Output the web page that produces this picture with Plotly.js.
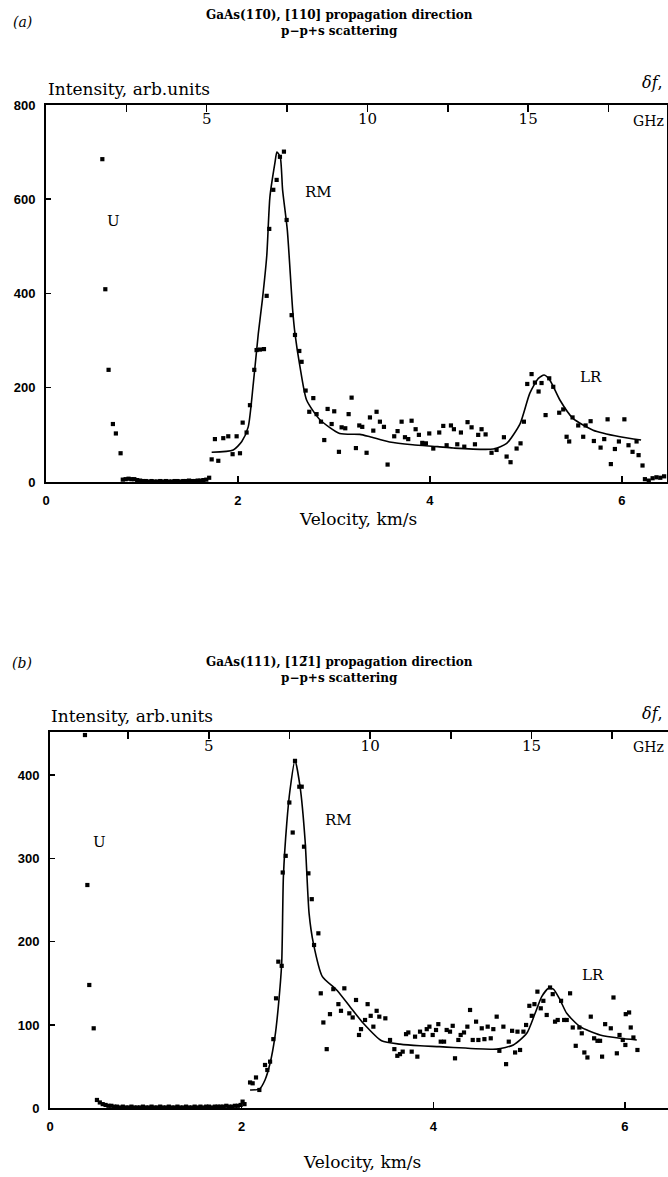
<!DOCTYPE html>
<html><head><meta charset="utf-8">
<script src="https://cdn.plot.ly/plotly-3.0.1.min.js"></script>
<style>html,body{margin:0;padding:0;background:#fff}</style>
</head><body><div id="chart" style="width:668px;height:1177px"></div>
<script>
// ---------- Panel (a) data: GaAs(1-10), [110] ----------
const aDotsV = [0.587,0.618,0.652,0.697,0.728,0.777,
0.80,0.83,0.86,0.89,0.92,0.95,0.98,1.01,1.04,1.07,1.10,1.13,1.16,1.19,1.22,1.25,1.28,1.31,1.34,1.37,1.40,1.43,1.46,1.49,1.52,1.55,1.58,1.61,1.64,1.67,1.70,
1.726,1.795,1.760,1.847,1.899,1.986,1.944,2.021,2.049,2.090,2.125,2.170,2.194,2.229,2.271,
2.299,2.326,2.368,2.403,2.4375,2.479,2.507,2.559,2.594,2.639,2.663,2.705,2.785,2.743,2.819,2.865,2.899,2.934,3.003,2.976,3.052,3.080,3.118,3.153,3.184,3.229,3.264,3.295,3.340,3.375,3.410,3.444,3.479,3.521,3.559,3.628,3.663,3.705,3.740,3.774,3.809,3.851,3.885,3.920,3.958,3.993,4.097,
4.035,4.139,4.174,4.219,4.250,4.285,4.323,4.358,4.392,4.434,4.469,4.503,4.538,4.580,4.642,4.694,4.771,4.799,4.840,4.903,4.944,4.979,5.014,5.059,5.094,5.132,5.163,5.205,5.243,5.285,5.347,5.389,5.424,5.451,5.486,5.545,5.597,5.622,5.674,5.708,5.778,5.816,5.851,5.885,5.927,5.969,6.026,6.069,6.111,6.153,6.174,6.215,
6.24,6.28,6.32,6.36,6.40,6.44];
const aDotsI = [685,409,238,123,103,61,
5,6,7,6,6,4,3,2,2,1,2,1,1,2,1,2,1,1,2,2,1,2,2,3,2,2,3,3,4,5,9,
48,45,91,93,97,97,59,61,126,105,163,238,280,281,282,
395,537,620,641,690,701,556,354,312,278,255,194,178,149,144,128,89,155,150,123,64,116,114,144,179,72,120,117,62,137,109,149,128,117,37,97,108,128,95,91,130,112,100,83,82,103,105,
71,119,78,120,112,80,105,75,127,116,80,100,112,101,62,68,95,54,42,71,82,128,208,229,211,192,210,142,220,202,147,154,96,86,137,120,96,120,129,87,73,91,133,38,70,86,133,78,64,86,57,35,
6,3,8,10,9,12];
const aFitV = [1.726,1.951,2.04,2.107,2.16,2.212,2.254,2.30,2.333,2.385,2.406,2.44,2.465,2.514,2.57,2.594,2.646,2.715,2.854,3.06,3.27,3.375,3.58,3.82,4.08,4.243,4.66,4.80,4.94,5.04,5.13,5.19,5.25,5.354,5.49,5.70,5.98,6.20];
const aFitI = [63,68,86,117,209,315,386,480,605,677,700,690,620,535,365,315,245,174,132,103,101,96,85,79,75,72,70,82,124,188,220,227,216,174,135,110,96,89];

// ---------- Panel (b) data: GaAs(111), [1-21] ----------
const bDotsV = [0.365,0.39,0.41,0.456,0.49,
0.52,0.55,0.58,0.61,0.64,0.67,0.70,0.73,0.76,0.79,0.82,0.85,0.88,0.91,0.94,0.97,1.00,1.03,1.06,1.09,1.12,1.15,1.18,1.21,1.24,1.27,1.30,1.33,1.36,1.39,1.42,1.45,1.48,1.51,1.54,1.57,1.60,1.63,1.66,1.69,1.72,1.75,1.78,1.81,1.84,1.87,1.90,1.93,1.96,1.99,2.01,2.03,
2.088,2.115,2.15,2.185,2.244,2.268,2.297,2.331,2.359,2.383,2.418,
2.429,2.46,2.498,2.533,2.557,2.602,2.627,2.651,2.697,2.732,2.801,2.756,2.826,2.853,2.888,2.922,2.957,3.01,3.037,3.072,3.124,3.159,3.194,3.225,3.246,3.288,3.315,3.347,3.375,3.409,3.437,3.5,3.549,3.594,3.625,3.653,3.681,3.716,3.74,3.775,3.834,3.810,3.862,3.897,3.932,3.960,3.994,4.029,4.053,
4.078,4.113,4.14,4.175,4.203,4.227,4.262,4.286,4.321,4.356,4.384,4.412,4.447,4.471,4.506,4.534,4.568,4.60,4.627,4.662,4.690,4.732,4.760,4.788,4.823,4.854,4.879,4.906,4.941,4.969,5.003,5.028,5.056,5.087,5.122,5.149,5.184,5.219,5.247,5.271,5.299,5.334,5.366,5.393,5.428,5.456,5.487,5.525,5.55,5.577,5.609,5.644,5.679,5.714,5.741,5.762,5.794,5.853,5.881,5.916,5.944,5.978,6.005,6.009,6.044,6.061,6.089,6.131];
const bDotsI = [448,268,148,96,10,
7,5,4,3,3,2,2,1,2,1,1,2,1,1,1,2,1,1,2,1,1,2,1,1,2,1,1,2,1,1,2,1,1,2,1,2,1,2,2,1,2,2,2,2,3,2,2,3,3,4,8,5,
31,30,37,22,52,46,56,83,132,176,171,
283,303,367,331,417,386,386,314,282,251,210,196,138,103,71,113,143,125,117,144,114,109,130,88,95,106,125,111,98,117,110,108,82,71,63,65,68,89,91,68,62,86,92,88,95,98,88,94,101,
80,80,94,92,99,60,82,88,91,98,118,82,104,82,96,83,98,84,95,110,69,98,53,80,93,67,92,70,92,100,123,111,125,140,120,129,112,145,137,104,106,129,106,106,138,97,75,97,90,67,61,110,84,81,81,62,101,96,133,66,88,82,76,113,115,97,85,70];
const bFitV = [2.088,2.185,2.244,2.297,2.348,2.383,2.418,2.436,2.471,2.505,2.557,2.61,2.662,2.704,2.749,2.843,2.992,3.131,3.27,3.461,3.653,3.862,4.063,4.21,4.662,4.836,4.976,5.063,5.132,5.202,5.254,5.324,5.393,5.532,5.741,5.95,6.124];
const bFitI = [22,23,34,54,86,122,174,278,342,382,418,386,322,234,198,158,142,122,102,81,77,75,74,73,71,76,90,114,134,144,143,130,114,98,88,84,82];

// ---------- tick labels ----------
const velTicks = [0,2,4,6];
const aIntTicks = [0,200,400,600,800];
const bIntTicks = [0,100,200,300,400];
const ghzTicks = [2.5,5,7.5,10,12.5,15,17.5];
const ghzText = ['','5','','10','','15',''];

const W = 668, H = 1177;
const PX = x => x / W, PY = y => 1 - y / H;
const serif = 'DejaVu Serif, serif';
const sansB = {family:'Liberation Sans, Arial, sans-serif', size:13, color:'#000', weight:'bold'};

function dots(x,y,xa,ya){return {x:x,y:y,xaxis:xa,yaxis:ya,type:'scatter',mode:'markers',
  marker:{symbol:'square',size:4.2,color:'#000'},cliponaxis:false,hoverinfo:'skip',showlegend:false};}
function fit(x,y,xa,ya){return {x:x,y:y,xaxis:xa,yaxis:ya,type:'scatter',mode:'lines',
  line:{color:'#000',width:1.6,shape:'spline',smoothing:0.6},hoverinfo:'skip',showlegend:false};}
const empty = (xa,ya)=>({x:[],y:[],xaxis:xa,yaxis:ya,type:'scatter',mode:'markers',showlegend:false,hoverinfo:'skip'});

const data = [dots(aDotsV,aDotsI,'x','y'), fit(aFitV,aFitI,'x','y'),
              dots(bDotsV,bDotsI,'x2','y2'), fit(bFitV,bFitI,'x2','y2'),
              empty('x3','y'), empty('x4','y2')];

const botAx = (dom, rng, anchor) => ({domain:dom, range:rng, anchor:anchor, tickvals:velTicks,
  ticks:'inside', ticklen:6, tickwidth:1.5, tickcolor:'#000', showline:true, linewidth:2, linecolor:'#000',
  showgrid:false, zeroline:false, tickfont:{...sansB, size:13}, ticklabelstandoff:5});
const leftAx = (dom, rng, anchor, tv, mirror) => ({domain:dom, range:rng, anchor:anchor, tickvals:tv,
  ticks:'inside', ticklen:5, tickwidth:1.5, tickcolor:'#000', showline:true, linewidth:2, linecolor:'#000',
  mirror:mirror, showgrid:false, zeroline:false, tickfont:sansB, ticklabelstandoff:6});
const topAx = (over, anchor, rng) => ({overlaying:over, anchor:anchor, side:'top', range:rng,
  tickvals:ghzTicks, ticktext:ghzText, ticks:'inside', ticklen:7, tickwidth:1.5, tickcolor:'#000',
  ticklabelposition:'outside', ticklabelstandoff:-27, ticklabeloverflow:'allow',
  showline:true, linewidth:2, linecolor:'#000', showgrid:false, zeroline:false,
  tickfont:{family:serif, size:15, color:'#000'}});

const ann = (txt, x, y, font, xanchor) => ({text:txt, xref:'paper', yref:'paper', x:PX(x), y:PY(y),
  xanchor:xanchor||'center', yanchor:'middle', showarrow:false, font:font});
const tFont = {family:serif, size:12, color:'#000', weight:'bold'};
const lFont = {family:serif, size:15, color:'#000'};
const axFont = {family:serif, size:17, color:'#000'};

const layout = {
  width:W, height:H, margin:{l:0,r:0,t:0,b:0}, paper_bgcolor:'#fff', plot_bgcolor:'rgba(0,0,0,0)',
  showlegend:false,
  xaxis: botAx([PX(46), PX(667)], [0, 6.47], 'y'),
  yaxis: leftAx([PY(482), PY(104.5)], [0, 801], 'x', aIntTicks, true),
  xaxis3: topAx('x', 'y', [0, 19.32]),
  xaxis2: botAx([PX(50), 1], [0, 6.45], 'y2'),
  yaxis2: leftAx([PY(1108.3), PY(731.7)], [0, 452], 'x2', bIntTicks, false),
  xaxis4: topAx('x2', 'y2', [0.08, 19.23]),
  annotations: [
    ann('<i>(a)</i>', 22, 22, {family:serif, size:14, color:'#000'}),
    ann('GaAs(11\u03050), [110] propagation direction', 339, 15, tFont),
    ann('p\u2212p+s scattering', 339, 31, tFont),
    ann('Intensity, arb.units', 46, 89, axFont, 'left'),
    ann('<i>\u03b4f</i>,', 652, 82, {family:serif, size:16, color:'#000'}),
    ann('GHz', 648, 121, {family:serif, size:14, color:'#000'}),
    ann('U', 113, 221, lFont),
    ann('RM', 318, 192, lFont),
    ann('LR', 591, 377, lFont),
    ann('Velocity, km/s', 358, 519, axFont),

    ann('<i>(b)</i>', 22, 663, {family:serif, size:14, color:'#000'}),
    ann('GaAs(111), [12\u03051] propagation direction', 339, 662, tFont),
    ann('p\u2212p+s scattering', 339, 678, tFont),
    ann('Intensity, arb.units', 49, 716, axFont, 'left'),
    ann('<i>\u03b4f</i>,', 652, 713, {family:serif, size:16, color:'#000'}),
    ann('GHz', 648, 747, {family:serif, size:14, color:'#000'}),
    ann('U', 100, 842, lFont),
    ann('RM', 338, 820, lFont),
    ann('LR', 593, 975, lFont),
    ann('Velocity, km/s', 362, 1162, axFont)
  ]
};
Plotly.newPlot('chart', data, layout, {staticPlot:true, displayModeBar:false});
</script></body></html>
